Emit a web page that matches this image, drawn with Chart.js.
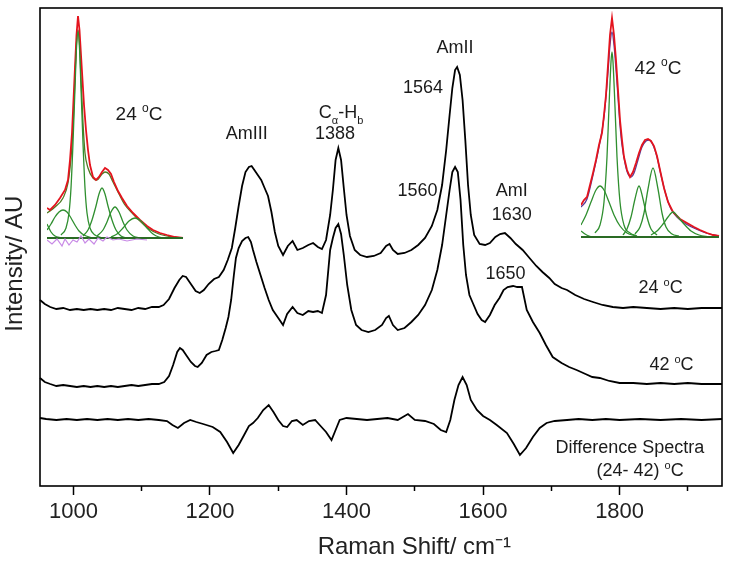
<!DOCTYPE html>
<html>
<head>
<meta charset="utf-8">
<script src="https://cdn.jsdelivr.net/npm/chart.js@4.4.0/dist/chart.umd.min.js"></script>
<style>
  body { margin: 0; background: #fff; }
  #wrap { position: relative; width: 729px; height: 565px; }
  #wrap canvas { position: absolute; }
</style>
</head>
<body>
<div id="wrap">
  <canvas id="mainChart" width="729" height="565" style="left:0;top:0"></canvas>
  <canvas id="inset24" width="140" height="242" style="left:47px;top:8px"></canvas>
  <canvas id="inset42" width="140" height="235" style="left:581px;top:8px"></canvas>
</div>
<script>
// Raman shift (cm-1) vs intensity (AU)
const tickValues = [1000, 1100, 1200, 1300, 1400, 1500, 1600, 1700, 1800, 1900];
const xTicks = [1000, 1200, 1400, 1600, 1800];

const spec24 = [[951,186],[958,182],[966,179],[975,177],[985,178],[995,176],[1005,177],[1015,176],[1025,177],[1035,176],[1045,177],[1055,176],[1065,178],[1075,177],[1085,176],[1095,178],[1105,177],[1115,179],[1125,179],[1132,181],[1140,187],[1148,198],[1155,206],[1160,210],[1165,209],[1172,202],[1179,195],[1185,193],[1191,196],[1198,202],[1206,207],[1213,209],[1220,216],[1226,226],[1232,238],[1237,258],[1242,280],[1247,300],[1252,314],[1257,319],[1261,320],[1265,316],[1270,311],[1275,306],[1280,298],[1285,290],[1290,274],[1295,254],[1300,240],[1307,231],[1314,240],[1321,245],[1328,236],[1336,238],[1344,241],[1351,243],[1358,239],[1364,237],[1370,246],[1376,271],[1380,296],[1384,326],[1388,338],[1392,326],[1396,298],[1400,271],[1405,250],[1412,236],[1420,231],[1430,229],[1440,230],[1450,233],[1458,240],[1463,242],[1468,236],[1475,232],[1485,233],[1495,236],[1505,241],[1515,248],[1525,260],[1533,276],[1540,301],[1546,336],[1551,371],[1555,398],[1559,416],[1562,419],[1566,411],[1570,386],[1574,346],[1578,301],[1582,271],[1587,251],[1595,242],[1603,241],[1610,243],[1618,249],[1625,252],[1632,253],[1640,248],[1648,242],[1658,236],[1668,228],[1678,220],[1687,214],[1697,208],[1705,202],[1715,198],[1723,196],[1735,191],[1748,187],[1761,184],[1775,181],[1790,179],[1805,178],[1820,179],[1840,178],[1860,177],[1880,178],[1900,177],[1920,178],[1950,178]];

const spec42 = [[951,108],[958,104],[966,102],[975,100],[985,101],[995,100],[1005,99],[1015,100],[1025,99],[1035,100],[1045,99],[1055,100],[1065,99],[1075,100],[1085,101],[1095,100],[1105,101],[1115,102],[1125,102],[1133,104],[1140,110],[1146,121],[1152,134],[1156,138],[1160,136],[1166,130],[1172,124],[1178,120],[1182,119],[1188,123],[1195,131],[1202,134],[1208,135],[1213,136],[1218,146],[1223,158],[1227,169],[1231,186],[1235,211],[1238,228],[1242,238],[1247,245],[1252,248],[1256,249],[1260,244],[1263,236],[1268,224],[1274,211],[1280,198],[1286,186],[1292,176],[1300,168],[1307,161],[1313,172],[1321,179],[1328,173],[1336,171],[1344,175],[1351,174],[1358,175],[1364,173],[1370,191],[1376,236],[1380,248],[1384,258],[1388,262],[1392,252],[1396,231],[1401,201],[1407,176],[1414,161],[1422,156],[1432,154],[1442,156],[1452,161],[1458,168],[1462,170],[1468,161],[1475,156],[1485,158],[1495,164],[1505,171],[1515,181],[1525,196],[1533,216],[1540,241],[1546,271],[1551,296],[1555,314],[1559,319],[1563,314],[1567,286],[1571,241],[1575,211],[1580,191],[1585,183],[1592,172],[1598,166],[1603,164],[1610,171],[1617,181],[1624,188],[1630,196],[1636,199],[1644,200],[1650,199],[1657,199],[1664,176],[1673,164],[1683,153],[1692,141],[1702,129],[1715,123],[1726,119],[1737,116],[1750,112],[1760,109],[1771,108],[1785,105],[1800,103],[1820,103],[1840,102],[1860,103],[1880,102],[1900,103],[1920,102],[1950,102]];

const specDiff = [[951,68],[960,67],[975,66],[990,67],[1005,66],[1020,67],[1035,66],[1050,67],[1065,66],[1080,67],[1095,66],[1110,67],[1125,66],[1137,65],[1145,61],[1153,58],[1162,63],[1171,66],[1180,64],[1190,62],[1204,59],[1215,54],[1225,44],[1234,33],[1242,41],[1250,51],[1257,60],[1263,63],[1270,68],[1278,76],[1286,81],[1293,74],[1300,66],[1307,60],[1313,59],[1320,65],[1327,66],[1336,61],[1345,65],[1354,66],[1362,60],[1370,54],[1378,46],[1384,56],[1390,66],[1400,68],[1415,67],[1430,66],[1445,67],[1460,68],[1475,66],[1490,72],[1500,66],[1515,65],[1528,62],[1538,56],[1546,54],[1552,66],[1558,86],[1564,101],[1570,109],[1576,101],[1582,86],[1591,76],[1600,70],[1610,66],[1620,61],[1635,53],[1645,42],[1654,31],[1663,38],[1673,49],[1683,58],[1693,63],[1705,65],[1723,66],[1740,67],[1760,66],[1780,67],[1800,66],[1830,67],[1860,66],[1890,67],[1920,66],[1950,67]];

// inset 24 oC: measured curve, fit, fitted bands, residual
const i24Red = [[0,30],[3,28],[8,33],[13,40],[18,48],[21,58],[23,78],[25,105],[26.5,138],[28,171],[29.5,203],[31,222],[32.5,208],[34,183],[35.5,158],[37,133],[39,108],[41,88],[43,73],[46,61],[49,58],[52,61],[55,66],[58,70],[61,68],[64,64],[67,56],[71,47],[75,40],[80,32],[86,25],[93,18],[100,12],[106,8],[113,5],[120,3],[128,1],[136,0]];
const i24Fit = [[0,25],[8,31],[16,40],[21,55],[24,80],[26,110],[28,160],[29.5,195],[31,208],[32.5,195],[34,160],[36,115],[38,85],[41,70],[46,60],[50,58],[55,64],[58,66],[62,64],[66,56],[72,44],[78,33],[86,24],[94,16],[102,9],[112,4],[125,1],[136,0]];
const i24Band0 = [[0,14],[4,6],[8,2],[14,0]];
const i24Band1 = [[0,8],[4,14],[8,21],[12,26],[16,28],[20,26],[24,20],[28,13],[32,7],[37,3],[45,0]];
const i24Band2 = [[14,3],[19,10],[22,25],[24,50],[26,95],[28,150],[29.5,190],[31,206],[32.5,190],[34,150],[36,95],[38,50],[40,25],[43,10],[48,3],[55,0]];
const i24Band3 = [[36,2],[41,8],[45,18],[49,32],[52,44],[55,50],[58,44],[61,32],[65,18],[69,8],[74,2],[80,0]];
const i24Band4 = [[50,2],[56,8],[60,16],[64,26],[68,31],[72,26],[76,16],[80,8],[86,2],[92,0]];
const i24Band5 = [[64,1],[70,4],[76,10],[82,17],[88,20],[94,17],[100,10],[106,4],[112,1],[120,0]];
const i24Resid = [[0,-2],[5,-6],[10,-1],[15,-8],[18,-1],[22,-7],[26,-2],[30,-4],[34,2],[38,-5],[42,-1],[47,-6],[51,0],[56,-3],[60,1],[66,-2],[72,-1],[80,-3],[90,-1],[100,-2]];
const i24Base = [[0,0],[136,0]];

// inset 42 oC
const i42Red = [[0,32],[3,37],[6,40],[9,52],[12,64],[15,77],[18,92],[21,104],[23,122],[25,142],[27,172],[29,202],[31,219],[33,202],[35,177],[37,147],[39,117],[41,97],[43,80],[46,67],[49,60],[52,65],[55,74],[58,84],[61,92],[64,97],[67,98],[70,96],[73,91],[76,81],[79,67],[83,49],[87,35],[92,25],[99,18],[106,14],[113,10],[119,7],[126,4],[132,2],[138,1]];
const i42Fit = [[0,30],[6,38],[12,62],[18,90],[23,120],[27,165],[29,192],[31,205],[33,192],[35,168],[37,140],[39,112],[41,92],[44,74],[47,63],[50,60],[53,64],[57,77],[61,90],[65,96],[68,97],[72,92],[76,80],[80,62],[85,42],[90,28],[97,19],[105,13],[115,8],[125,4],[138,1]];
const i42Band0 = [[0,6],[4,3],[8,1],[14,0]];
const i42Band1 = [[0,12],[5,22],[10,35],[15,47],[19,51],[23,47],[28,35],[33,22],[39,11],[46,4],[55,1]];
const i42Band2 = [[14,4],[19,12],[23,35],[26,80],[28,130],[30,175],[31,185],[32,175],[34,130],[36,80],[39,35],[43,12],[49,4],[56,1]];
const i42Band3 = [[42,2],[46,8],[50,20],[54,38],[58,51],[62,38],[66,20],[70,8],[76,2]];
const i42Band4 = [[54,3],[59,10],[63,24],[67,48],[72,69],[77,48],[81,24],[85,10],[91,3],[98,1]];
const i42Band5 = [[70,2],[76,6],[82,13],[87,20],[92,25],[97,20],[103,13],[110,6],[118,2],[128,0]];
const i42Base = [[0,0],[138,0]];

const FONT = "'Liberation Sans', Arial, sans-serif";
const INK = '#1b1b1b';

function pts(list) {
  return list.map(p => ({ x: p[0], y: p[1] }));
}

function sup(a, b, c) {
  return [{ t: a }, { t: b, s: 'sup' }, { t: c }];
}

// draws the annotation texts, placed through the chart scales
function notesPlugin(items) {
  return {
    id: 'notes',
    afterDatasetsDraw(chart) {
      const ctx = chart.ctx;
      const xs = chart.scales.x, ys = chart.scales.y;
      ctx.save();
      ctx.fillStyle = INK;
      ctx.textBaseline = 'alphabetic';
      items.forEach(it => {
        const parts = typeof it.text === 'string' ? [{ t: it.text }] : it.text;
        const fontOf = p => (p.s ? Math.round(it.size * 0.62) : it.size) + 'px ' + FONT;
        let w = 0;
        parts.forEach(p => { ctx.font = fontOf(p); w += ctx.measureText(p.t).width; });
        let x = xs.getPixelForValue(it.x) - w / 2;
        const y = ys.getPixelForValue(it.y) + it.size * 0.36;
        parts.forEach(p => {
          ctx.font = fontOf(p);
          let dy = 0;
          if (p.s === 'sub') dy = it.size * 0.28;
          if (p.s === 'sup') dy = -it.size * 0.42;
          ctx.fillText(p.t, x, y + dy);
          x += ctx.measureText(p.t).width;
        });
      });
      ctx.restore();
    }
  };
}

const framePlugin = {
  id: 'frame',
  afterDraw(chart) {
    const a = chart.chartArea, ctx = chart.ctx;
    ctx.save();
    ctx.strokeStyle = '#000';
    ctx.lineWidth = 1.6;
    ctx.strokeRect(a.left, a.top, a.right - a.left, a.bottom - a.top);
    ctx.restore();
  }
};

const mainNotes = [
  { x: 1254, y: 353, size: 18, text: 'AmIII' },
  { x: 1392, y: 374, size: 18, text: [{ t: 'C' }, { t: '\u03b1', s: 'sub' }, { t: '-H' }, { t: 'b', s: 'sub' }] },
  { x: 1383, y: 353, size: 18, text: '1388' },
  { x: 1559, y: 439, size: 18, text: 'AmII' },
  { x: 1512, y: 399, size: 18, text: '1564' },
  { x: 1504, y: 296, size: 18, text: '1560' },
  { x: 1642, y: 296, size: 18, text: 'AmI' },
  { x: 1642, y: 272, size: 18, text: '1630' },
  { x: 1633, y: 213, size: 18, text: '1650' },
  { x: 1860, y: 199, size: 18, text: sup('24 ', 'o', 'C') },
  { x: 1876, y: 122, size: 18, text: sup('42 ', 'o', 'C') },
  { x: 1815, y: 39, size: 18, text: 'Difference Spectra' },
  { x: 1830, y: 16, size: 18, text: sup('(24- 42) ', 'o', 'C') }
];

function line(list, color, width, smooth) {
  return {
    data: pts(list),
    borderColor: color,
    borderWidth: width,
    pointRadius: 0,
    fill: false,
    clip: false,
    tension: smooth ? 0.4 : 0,
    cubicInterpolationMode: smooth ? 'monotone' : 'default'
  };
}

new Chart(document.getElementById('mainChart'), {
  type: 'line',
  data: {
    datasets: [
      line(spec24, '#000', 1.8, false),
      line(spec42, '#000', 1.8, false),
      line(specDiff, '#000', 1.8, false)
    ]
  },
  options: {
    responsive: false,
    animation: false,
    layout: { padding: { left: 0, top: 8, right: 7, bottom: 0 } },
    plugins: { legend: { display: false }, tooltip: { enabled: false } },
    scales: {
      x: {
        type: 'linear',
        min: 951,
        max: 1950,
        border: { display: false },
        grid: {
          drawOnChartArea: false,
          tickLength: 9,
          tickWidth: 1.5,
          tickColor: '#000',
          tickBorderDash: ctx => (ctx.tick && xTicks.indexOf(ctx.tick.value) < 0) ? [5, 40] : []
        },
        afterBuildTicks: s => { s.ticks = tickValues.map(v => ({ value: v })); },
        ticks: {
          autoSkip: false,
          maxRotation: 0,
          padding: 4,
          color: '#222',
          font: { family: FONT, size: 22 },
          callback: v => xTicks.indexOf(v) >= 0 ? String(v) : ''
        },
        title: {
          display: true,
          text: '\u00a0\u00a0\u00a0\u00a0\u00a0\u00a0\u00a0\u00a0\u00a0\u00a0Raman Shift/ cm\u207b\u00b9',
          color: '#222',
          font: { family: FONT, size: 24 },
          padding: { top: 0, bottom: 3 }
        },
        afterFit: s => { s.height = 79; }
      },
      y: {
        min: 0,
        max: 478,
        border: { display: false },
        grid: { display: false },
        ticks: { display: false },
        title: {
          display: true,
          text: 'Intensity/ AU\u00a0\u00a0\u00a0\u00a0\u00a0',
          color: '#222',
          font: { family: FONT, size: 24 },
          padding: { top: 1, bottom: 0 }
        },
        afterFit: s => { s.width = 40; }
      }
    }
  },
  plugins: [framePlugin, notesPlugin(mainNotes)]
});

function insetChart(id, xMax, yMin, yMax, datasets, notes) {
  new Chart(document.getElementById(id), {
    type: 'line',
    data: { datasets: datasets },
    options: {
      responsive: false,
      animation: false,
      layout: { padding: 0 },
      plugins: { legend: { display: false }, tooltip: { enabled: false } },
      scales: {
        x: { type: 'linear', min: 0, max: xMax, display: false },
        y: { min: yMin, max: yMax, display: false }
      }
    },
    plugins: [notesPlugin(notes)]
  });
}

const RED = '#e4141e', GREEN = '#2f8f2f', DKGREEN = '#2a6b24';

insetChart('inset24', 140, -12, 230, [
  line(i24Resid, '#c88ae6', 1.2, false),
  line(i24Base, DKGREEN, 2, false),
  line(i24Band0, GREEN, 1.3, true),
  line(i24Band1, GREEN, 1.3, true),
  line(i24Band2, GREEN, 1.3, true),
  line(i24Band3, GREEN, 1.3, true),
  line(i24Band4, GREEN, 1.3, true),
  line(i24Band5, GREEN, 1.3, true),
  line(i24Red, RED, 1.8, false),
  line(i24Fit, '#4e7a22', 1.3, true)
], [{ x: 92, y: 125, size: 19, text: sup('24 ', 'o', 'C') }]);

insetChart('inset42', 140, -6, 229, [
  line(i42Base, DKGREEN, 2, false),
  line(i42Band0, GREEN, 1.3, true),
  line(i42Band1, GREEN, 1.3, true),
  line(i42Band2, GREEN, 1.3, true),
  line(i42Band3, GREEN, 1.3, true),
  line(i42Band4, GREEN, 1.3, true),
  line(i42Band5, GREEN, 1.3, true),
  line(i42Red, RED, 1.8, false),
  line(i42Fit, '#5a3a96', 1.3, true)
], [{ x: 77, y: 170, size: 19, text: sup('42 ', 'o', 'C') }]);
</script>
</body>
</html>
